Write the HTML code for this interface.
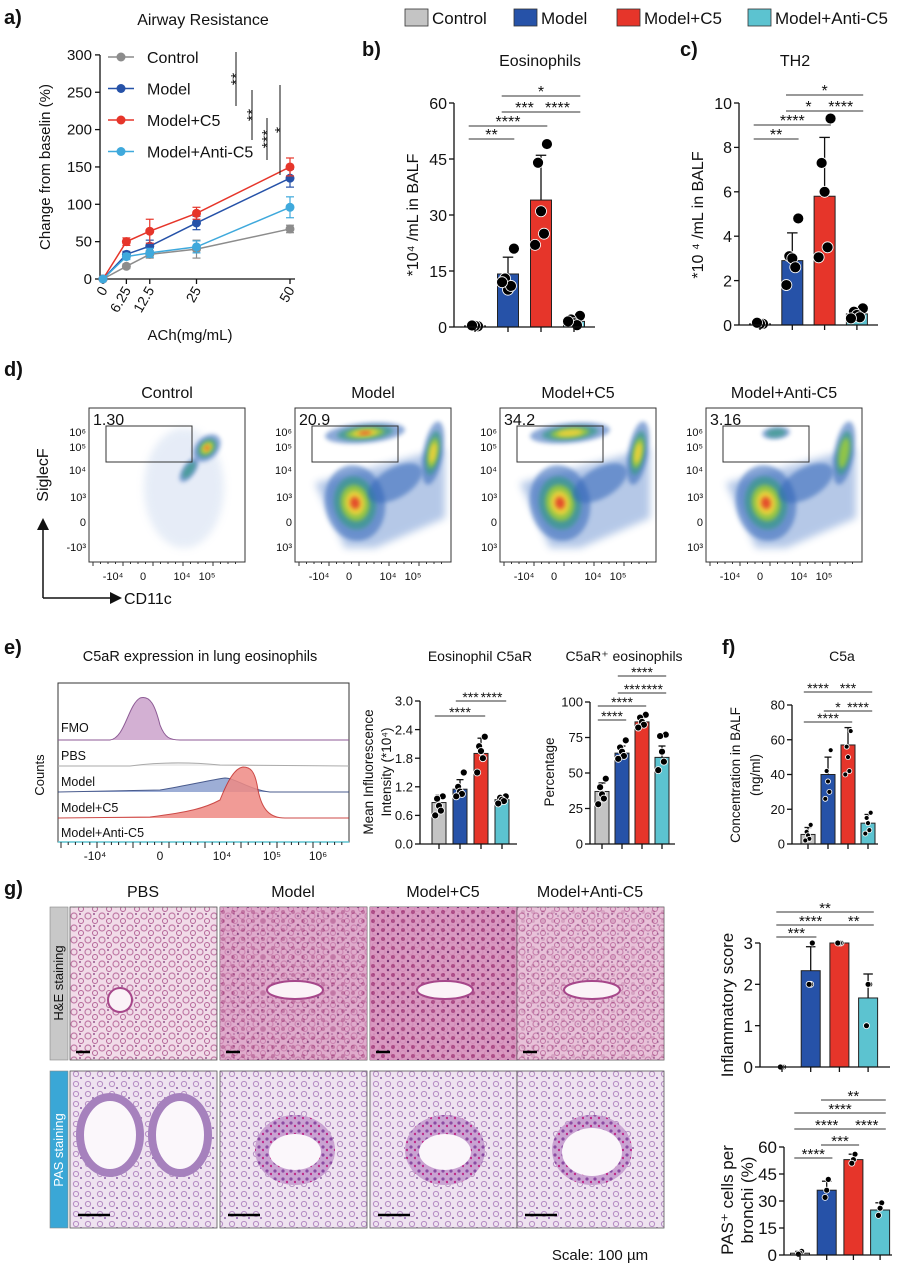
<!DOCTYPE html>
<html><head><meta charset="utf-8">
<style>
html,body{margin:0;padding:0;background:#fff;}
svg{display:block;font-family:"Liberation Sans",Arial,sans-serif;}
</style></head>
<body>
<svg id="fig" width="911" height="1275" viewBox="0 0 911 1275" xmlns="http://www.w3.org/2000/svg">
<defs>
<filter id="blur4" x="-50%" y="-50%" width="200%" height="200%"><feGaussianBlur stdDeviation="4"/></filter>
<filter id="blur2" x="-50%" y="-50%" width="200%" height="200%"><feGaussianBlur stdDeviation="2"/></filter>
<pattern id="he" width="14" height="12" patternUnits="userSpaceOnUse">
<rect width="14" height="12" fill="#f1dbe8"/>
<circle cx="4" cy="4" r="3" fill="none" stroke="#c07aa6" stroke-width="1.2"/>
<circle cx="11" cy="9" r="2.5" fill="none" stroke="#b56598" stroke-width="1"/>
<circle cx="10" cy="2" r="0.9" fill="#7a2f74"/></pattern>
<pattern id="he2" width="10" height="9" patternUnits="userSpaceOnUse">
<rect width="10" height="9" fill="#d690bb"/>
<circle cx="3" cy="3" r="2" fill="#a8407f"/>
<circle cx="8" cy="7" r="1.2" fill="#6b2268"/></pattern>
<pattern id="pas" width="12" height="10" patternUnits="userSpaceOnUse">
<rect width="12" height="10" fill="#efe3f0"/>
<circle cx="4" cy="4" r="2.6" fill="none" stroke="#b58cc4" stroke-width="1"/>
<circle cx="9" cy="8" r="1" fill="#8a5aa6"/></pattern>
<pattern id="pas2" width="8" height="8" patternUnits="userSpaceOnUse">
<rect width="8" height="8" fill="#c9a3d2"/>
<circle cx="3" cy="3" r="1.6" fill="#8c4aa2"/>
<circle cx="7" cy="6" r="1.2" fill="#c02a8a"/></pattern>
</defs>
<g id="root"></g>
</svg>
<script>
// ---------- DATA ----------
const groups = ["Control","Model","Model+C5","Model+Anti-C5"];
const colors = ["#c4c4c4","#2652a8","#e6352a","#5cc3d0"];
// panel a
const achDoses = [0, 6.25, 12.5, 25, 50];
const arControl = [0, 17, 33, 40, 67];
const arModel = [0, 33, 44, 75, 135];
const arC5 = [0, 50, 64, 88, 150];
const arAnti = [0, 30, 35, 43, 96];
const arErrC5 = [0, 5, 16, 8, 12];
const arErrModel = [0, 4, 8, 9, 12];
const arErrAnti = [0, 4, 6, 8, 14];
const arErrControl = [0, 3, 5, 12, 5];
const arTicks = [0,50,100,150,200,250,300];
// panel b
const eosMeans = [0.3, 14.2, 34, 1.5];
const eosSD = [0.2, 4.5, 12, 1];
const eosDots = [[0.2,0.3,0.4],[21,13,10,11,12],[49,44,31,25,22],[3,2,1,0.5,1.5]];
const eosTicks = [0,15,30,45,60];
// panel c
const th2Means = [0.05, 2.9, 5.8, 0.5];
const th2SD = [0.05, 1.25, 2.65, 0.2];
const th2Dots = [[0.05,0.05,0.1],[4.8,3.1,3,2.6,1.8],[9.3,7.3,6,3.5,3.05],[0.75,0.6,0.45,0.35,0.3]];
const th2Ticks = [0,2,4,6,8,10];
// panel e (MFI)
const mfiMeans = [0.87, 1.15, 1.9, 0.93];
const mfiSD = [0.15, 0.2, 0.32, 0.08];
const mfiDots = [[1.0,0.95,0.8,0.7,0.6],[1.5,1.2,1.1,1.05,1.0],[2.25,2.05,1.95,1.8,1.5],[1.0,0.97,0.93,0.9,0.85]];
const mfiTicks = [0,0.6,1.2,1.8,2.4,3.0];
// panel e (percentage)
const pctMeans = [37, 64, 86, 61];
const pctSD = [6, 5, 3, 8];
const pctDots = [[46,40,35,32,28],[73,68,65,62,60],[91,89,86,84,82],[77,76,65,58,52]];
const pctTicks = [0,25,50,75,100];
// panel f
const c5aMeans = [5.5, 40, 57, 12];
const c5aSD = [4, 10, 10, 5];
const c5aDots = [[11,7,5,3,2],[54,42,36,30,26],[65,56,50,42,40],[18,15,12,8,6]];
const c5aTicks = [0,20,40,60,80];
// panel g
const inflMeans = [0, 2.33, 3, 1.67];
const inflSD = [0, 0.58, 0, 0.58];
const inflDots = [[0,0,0],[3,2,2],[3,3,3],[2,2,1]];
const inflTicks = [0,1,2,3];
const pasMeans = [1, 36, 53, 25];
const pasSD = [1, 5, 3, 4];
const pasDots = [[2,1,0.5],[42,36,32],[56,53,51],[29,26,22]];
const pasTicks = [0,15,30,45,60];

// ---------- HELPERS ----------
const NS="http://www.w3.org/2000/svg";
const root=document.getElementById('root');
function el(tag, attrs, parent, text){
  const e=document.createElementNS(NS,tag);
  for(const k in attrs) e.setAttribute(k,attrs[k]);
  if(text!==undefined) e.textContent=text;
  (parent||root).appendChild(e);
  return e;
}
function txt(x,y,s,size,opts,parent){
  opts=opts||{};
  const t=el('text',{x:x,y:y,'font-size':size,fill:opts.fill||'#111','text-anchor':opts.anchor||'start','font-weight':opts.bold?'bold':'normal'},parent,s);
  if(opts.rot) t.setAttribute('transform','rotate('+opts.rot+' '+x+' '+y+')');
  return t;
}
function line(x1,y1,x2,y2,stroke,w,parent){return el('line',{x1:x1,y1:y1,x2:x2,y2:y2,stroke:stroke||'#111','stroke-width':w||1.3},parent);}

function barChart(cfg){
  const g=el('g',{});
  
  
  const ymax=cfg.ticks[cfg.ticks.length-1];
  const ys=v=>cfg.yBot-(v/ymax)*(cfg.yBot-cfg.yTop);
  const xs=i=>cfg.x1+i*cfg.step;
  cfg.means.forEach((m,i)=>{
    const b=el('rect',{x:xs(i)-cfg.bw/2,y:ys(m),width:cfg.bw,height:Math.max(0,cfg.yBot-ys(m)),fill:colors[i],stroke:'#222','stroke-width':1},g);
    
    
  });
  cfg.means.forEach((m,i)=>{
    const sd=cfg.sd[i]; if(!sd) return;
    line(xs(i),ys(m),xs(i),ys(m+sd),'#111',1.3,g);
    line(xs(i)-cfg.bw*0.25,ys(m+sd),xs(i)+cfg.bw*0.25,ys(m+sd),'#111',1.3,g);
  });
  cfg.dots.forEach((arr,i)=>{
    const n=arr.length;
    arr.forEach((v,j)=>{
      const off=(j-(n-1)/2)*cfg.dr*0.9*(j%2?1:-1)*0.6;
      const d=el('circle',{cx:xs(i)+off,cy:ys(v),r:cfg.dr,fill:'#000',stroke:'#fff','stroke-width':0.8},g);
      
      
    });
  });
  line(cfg.axX,cfg.yTop,cfg.axX,cfg.yBot,'#111',1.3,g);
  line(cfg.axX,cfg.yBot,cfg.xEnd,cfg.yBot,'#111',1.3,g);
  cfg.ticks.forEach(t=>{
    line(cfg.axX-5,ys(t),cfg.axX,ys(t),'#111',1.3,g);
    txt(cfg.axX-7,ys(t)+cfg.fs*0.36,cfg.fix?t.toFixed(1):String(t),cfg.fs,{anchor:'end'},g);
  });
  cfg.means.forEach((m,i)=>line(xs(i),cfg.yBot,xs(i),cfg.yBot+5,'#111',1.3,g));
  (cfg.sig||[]).forEach(s=>{
    line(xs(s[0])-cfg.bw*0.3,s[2],xs(s[1])+cfg.bw*0.3,s[2],'#333',1,g);
    txt((xs(s[0])+xs(s[1]))/2,s[2]+1,s[3],cfg.sfs||15,{anchor:'middle'},g);
  });
  return g;
}

// ---------- TOP LEGEND ----------
const lg=el('g',{});


const lgX=[405,514,617,748];
groups.forEach((gname,i)=>{
  const r=el('rect',{x:lgX[i],y:9,width:23,height:17,fill:colors[i],stroke:'#333','stroke-width':0.8},lg);
  
  
  txt(lgX[i]+27,24,gname,17,{},lg);
});

// ---------- PANEL LABELS ----------
[["a)",4,24],["b)",362,56],["c)",680,56],["d)",4,376],["e)",4,654],["f)",722,654],["g)",4,895]].forEach(p=>{
  const t=txt(p[1],p[2],p[0],20,{bold:true});
  
  
});

// ---------- PANEL A ----------
(function(){
  const g=el('g',{});
  
  
  const xs=v=>103+v*3.74, ys=v=>279-v*0.747;
  txt(203,25,"Airway Resistance",16,{anchor:'middle'},g);
  line(100,55,100,279,'#111',1.3,g);
  line(100,279,295,279,'#111',1.3,g);
  arTicks.forEach(t=>{line(95,ys(t),100,ys(t),'#111',1.3,g);txt(92,ys(t)+5,String(t),15,{anchor:'end'},g);});
  achDoses.forEach(d=>{line(xs(d),279,xs(d),284,'#111',1.3,g);txt(xs(d)+5,290,String(d),14,{anchor:'end',rot:-60},g);});
  txt(190,340,"ACh(mg/mL)",15,{anchor:'middle'},g);
  txt(50,167,"Change from baselin (%)",15,{anchor:'middle',rot:-90},g);
  const series=[[arControl,arErrControl,"#8c8c8c","Control"],[arModel,arErrModel,"#2652a8","Model"],[arC5,arErrC5,"#e6352a","Model+C5"],[arAnti,arErrAnti,"#3fa9dc","Model+Anti-C5"]];
  series.forEach((s,si)=>{
    const sg=el('g',{},g);
    
    
    el('polyline',{points:achDoses.map((d,i)=>xs(d)+','+ys(s[0][i])).join(' '),fill:'none',stroke:s[2],'stroke-width':1.5},sg);
    achDoses.forEach((d,i)=>{
      if(s[1][i]){line(xs(d),ys(s[0][i]-s[1][i]),xs(d),ys(s[0][i]+s[1][i]),s[2],1.2,sg);
        line(xs(d)-4,ys(s[0][i]+s[1][i]),xs(d)+4,ys(s[0][i]+s[1][i]),s[2],1.2,sg);
        line(xs(d)-4,ys(s[0][i]-s[1][i]),xs(d)+4,ys(s[0][i]-s[1][i]),s[2],1.2,sg);}
      el('circle',{cx:xs(d),cy:ys(s[0][i]),r:4.5,fill:s[2]},sg);
    });
    const ly=57+si*31.5;
    line(108,ly,134,ly,s[2],1.5,g);
    el('circle',{cx:121,cy:ly,r:4.5,fill:s[2]},g);
    txt(147,ly+6,s[3],16,{},g);
  });
  [[236,52,106,"**"],[252,90,140,"**"],[267,118,160,"***"],[280,85,175,"*"]].forEach(b=>{
    line(b[0],b[1],b[0],b[2],'#111',1,g);
    txt(b[0]+6,(b[1]+b[2])/2,b[3],16,{anchor:'middle',rot:-90},g);
  });
})();

// ---------- PANEL B ----------
txt(540,66,"Eosinophils",16,{anchor:'middle'});
barChart({name:'eosinophils-chart',means:eosMeans,sd:eosSD,dots:eosDots,ticks:eosTicks,x1:475,step:33,bw:21,axX:454,xEnd:595,yTop:103,yBot:327,fs:16,dr:5.5,sfs:16,
  sig:[[0,1,139,"**"],[0,2,126,"****"],[1,2,112,"***"],[2,3,112,"****"],[1,3,96,"*"]]});
txt(418,215,"*10\u2074 /mL in BALF",16,{anchor:'middle',rot:-90});

// ---------- PANEL C ----------
txt(795,66,"TH2",16,{anchor:'middle'});
barChart({name:'th2-chart',means:th2Means,sd:th2SD,dots:th2Dots,ticks:th2Ticks,x1:760,step:32.3,bw:21,axX:739,xEnd:878,yTop:103,yBot:325,fs:16,dr:5.5,sfs:16,
  sig:[[0,1,139,"**"],[0,2,125,"****"],[1,2,111,"*"],[2,3,111,"****"],[1,3,95,"*"]]});
txt(703,215,"*10  \u2074 /mL in BALF",16,{anchor:'middle',rot:-90});

// ---------- PANEL D (flow) ----------
const flowNames=["Control","Model","Model+C5","Model+Anti-C5"];
const flowGates=["1.30","20.9","34.2","3.16"];
const flowX=[89,295,500,706];
function blob(parent,cx,cy,rx,ry,rot,strength){
  const L=[["#2d63b8",1,0.55],["#3a9a8a",0.7,0.75],["#9ccc3a",0.48,0.85],["#f2d23a",0.32,0.9],["#e4462a",0.16,0.95]];
  L.forEach((l,k)=>{ if(k>=strength) return;
    el('ellipse',{cx:cx,cy:cy,rx:rx*l[1],ry:ry*l[1],fill:l[0],opacity:l[2],filter:'url(#blur2)',transform:'rotate('+rot+' '+cx+' '+cy+')'},parent);});
}
flowX.forEach((x0,i)=>{
  const g=el('g',{});
  
  
  txt(x0+78,398,flowNames[i],16,{anchor:'middle'},g);
  const W=156,T=408,B=562;
  el('rect',{x:x0,y:T,width:W,height:B-T,fill:'#fff',stroke:'#333','stroke-width':1},g);
  if(i===0){
    el('ellipse',{cx:x0+95,cy:T+80,rx:40,ry:60,fill:'#9db7e0',opacity:0.25,filter:'url(#blur4)'},g);
    blob(g,x0+118,T+40,16,11,-45,5);
    blob(g,x0+100,T+62,14,6,-55,2);
  } else {
    const eosBig = i===2?4:(i===1?5:2);
    el('path',{d:`M${x0+20} ${T+75} L${x0+150} ${T+40} L${x0+150} ${T+110} L${x0+80} ${T+140} L${x0+50} ${T+140} Z`,fill:'#5b86cc',opacity:0.45,filter:'url(#blur4)'},g);
    blob(g,x0+60,T+95,30,38,-10,5);
    blob(g,x0+70,T+25,i===3?14:40,i===3?6:10,-5,eosBig);
    blob(g,x0+138,T+45,10,32,10,i===3?3:4);
    blob(g,x0+100,T+75,30,15,-30,1);
  }
  el('rect',{x:x0+17,y:T+18,width:86,height:36,fill:'none',stroke:'#333','stroke-width':1},g);
  txt(x0+4,T+17,flowGates[i],16,{},g);
  [["10\u2076",432],["10\u2075",447],["10\u2074",470],["10\u00b3",497],["0",522],[i===0?"-10\u00b3":"10\u00b3",547]].forEach(t=>txt(x0-3,t[1]+4,t[0],11,{anchor:'end'},g));
  [["-10\u2074",24],["0",54],["10\u2074",93],["10\u2075",118]].forEach(t=>txt(x0+t[1],580,t[0],11,{anchor:'middle'},g));
  for(let k=0;k<20;k++) line(x0+4+k*7.5,B,x0+4+k*7.5,B+(k%4===0?4:2),'#333',1,g);
});
(function(){
  const g=el('g',{});
  
  
  line(43,598,43,528,'#111',1.5,g);
  el('polygon',{points:'37,530 49,530 43,518',fill:'#111'},g);
  line(43,598,112,598,'#111',1.5,g);
  el('polygon',{points:'110,592 110,604 122,598',fill:'#111'},g);
  txt(124,604,"CD11c",16,{},g);
  txt(48,475,"SiglecF",16,{anchor:'middle',rot:-90},g);
})();

// ---------- PANEL E histogram ----------
(function(){
  const g=el('g',{});
  
  
  txt(200,661,"C5aR expression in lung eosinophils",14.5,{anchor:'middle'},g);
  el('rect',{x:58,y:683,width:291,height:159,fill:'#fff',stroke:'#333','stroke-width':1},g);
  el('path',{d:'M58 740 L110 740 C125 738 128 705 140 698 C150 695 155 705 160 725 C165 738 170 740 180 740 L349 740',fill:'#d3b0d3',stroke:'#8c5a94','stroke-width':1},g);
  el('path',{d:'M58 766 L130 766 C160 762 190 762 220 765 L349 766',fill:'#ededed',stroke:'#aaa','stroke-width':1},g);
  el('path',{d:'M58 792 L160 790 C190 785 210 780 225 778 C235 778 250 790 270 792 L349 792',fill:'#8da0cf',stroke:'#2a3f7a','stroke-width':1,opacity:0.85},g);
  el('path',{d:'M58 818 L150 817 C190 812 205 808 220 800 C228 780 235 768 243 767 C250 767 255 770 258 790 C262 810 270 818 285 818 L349 818',fill:'#ef8a84',stroke:'#c42b27','stroke-width':1,opacity:0.85},g);
  line(58,842,349,842,'#5cc3d0',1.5,g);
  [["FMO",732],["PBS",760],["Model",786],["Model+C5",812],["Model+Anti-C5",837]].forEach(t=>txt(61,t[1],t[0],12.5,{},g));
  txt(44,775,"Counts",13,{anchor:'middle',rot:-90},g);
  [["-10\u2074",95],["0",160],["10\u2074",222],["10\u2075",272],["10\u2076",318]].forEach(t=>txt(t[1],860,t[0],12,{anchor:'middle'},g));
  for(let k=0;k<40;k++) line(61+k*7.2,842,61+k*7.2,k%5===0?848:845,'#222',1,g);
})();

// ---------- PANEL E bars ----------
txt(480,661,"Eosinophil C5aR",14,{anchor:'middle'});
barChart({name:'eosinophil-c5ar-mfi-chart',means:mfiMeans,sd:mfiSD,dots:mfiDots,ticks:mfiTicks,fix:true,x1:439,step:21,bw:14,axX:420,xEnd:517,yTop:701,yBot:844,fs:13,dr:3.5,sfs:14,
  sig:[[0,2,716,"****"],[1,2,701,"***"],[2,3,701,"****"]]});
txt(373,772,"Mean Influorescence",13.5,{anchor:'middle',rot:-90});
txt(391,772,"Intensity (*10\u2074)",13.5,{anchor:'middle',rot:-90});

txt(624,661,"C5aR\u207a eosinophils",14,{anchor:'middle'});
barChart({name:'c5ar-positive-eosinophils-chart',means:pctMeans,sd:pctSD,dots:pctDots,ticks:pctTicks,x1:602,step:20,bw:14,axX:590,xEnd:675,yTop:702,yBot:844,fs:13,dr:3.5,sfs:14,
  sig:[[0,1,720,"****"],[0,2,706,"****"],[1,2,693,"***"],[2,3,693,"****"],[1,3,676,"****"]]});
txt(554,772,"Percentage",13.5,{anchor:'middle',rot:-90});

// ---------- PANEL F ----------
txt(842,661,"C5a",14,{anchor:'middle'});
barChart({name:'c5a-concentration-chart',means:c5aMeans,sd:c5aSD,dots:c5aDots,ticks:c5aTicks,x1:808,step:20,bw:14,axX:792,xEnd:878,yTop:705,yBot:844,fs:13,dr:2.5,sfs:14,
  sig:[[0,1,692,"****"],[1,3,692,"***"],[1,2,711,"*"],[2,3,711,"****"],[0,2,722,"****"]]});
txt(740,775,"Concentration in BALF",13.5,{anchor:'middle',rot:-90});
txt(760,775,"(ng/ml)",13.5,{anchor:'middle',rot:-90});

// ---------- PANEL G images ----------
const histCols=[70,220,370,517];
const histTitles=["PBS","Model","Model+C5","Model+Anti-C5"];
histCols.forEach((x0,i)=>{
  txt(x0+73,897,histTitles[i],16,{anchor:'middle'});
  const g=el('g',{});
  
  
  el('rect',{x:x0,y:907,width:147,height:153,fill:'url(#he)',stroke:'#555','stroke-width':0.8},g);
  if(i>0){
    el('rect',{x:x0,y:907,width:147,height:153,fill:'url(#he2)',opacity:i===2?0.9:(i===1?0.65:0.35)},g);
  }
  el('ellipse',{cx:x0+(i===0?50:75),cy:i===0?1000:990,rx:i===0?12:28,ry:i===0?12:9,fill:'#fbf2f7',stroke:'#a6478a','stroke-width':2},g);
  line(x0+6,1052,x0+20,1052,'#000',2.5,g);
  const p=el('g',{});
  
  
  el('rect',{x:x0,y:1071,width:147,height:157,fill:'url(#pas)',stroke:'#555','stroke-width':0.8},p);
  if(i===0){
    el('ellipse',{cx:x0+40,cy:1135,rx:30,ry:38,fill:'#fbf7fb',stroke:'#a681bd','stroke-width':8},p);
    el('ellipse',{cx:x0+110,cy:1135,rx:28,ry:38,fill:'#fbf7fb',stroke:'#a681bd','stroke-width':8},p);
  } else {
    el('ellipse',{cx:x0+75,cy:1150,rx:40,ry:35,fill:'url(#pas2)'},p);
    el('ellipse',{cx:x0+75,cy:1152,rx:i===3?30:26,ry:i===3?24:18,fill:'#fbf7fb'},p);
  }
  line(x0+8,1215,x0+40,1215,'#000',2.5,p);
});
el('rect',{x:50,y:907,width:18,height:153,fill:'#c8c8c8',stroke:'#888','stroke-width':0.6});
el('rect',{x:50,y:1071,width:18,height:157,fill:'#3aa7d6',stroke:'#888','stroke-width':0.6});
txt(63,983,"H&E staining",13,{anchor:'middle',rot:-90});
txt(63,1150,"PAS  staining",13,{anchor:'middle',rot:-90,fill:'#fff'});
txt(600,1260,"Scale: 100 \u00b5m",15,{anchor:'middle'});

// ---------- PANEL G bars ----------
barChart({name:'inflammatory-score-chart',means:inflMeans,sd:inflSD,dots:inflDots,ticks:inflTicks,x1:782,step:28.7,bw:19,axX:760,xEnd:890,yTop:943,yBot:1067,fs:17,dr:3,sfs:15,
  sig:[[0,1,937,"***"],[0,2,925,"****"],[2,3,925,"**"],[0,3,912,"**"]]});
txt(733,1005,"Inflammatory score",17,{anchor:'middle',rot:-90});
barChart({name:'pas-positive-cells-chart',means:pasMeans,sd:pasSD,dots:pasDots,ticks:pasTicks,x1:800,step:26.7,bw:19,axX:784,xEnd:892,yTop:1147,yBot:1255,fs:17,dr:3,sfs:15,
  sig:[[0,1,1158,"****"],[1,2,1145,"***"],[0,2,1129,"****"],[2,3,1129,"****"],[0,3,1113,"****"],[1,3,1100,"**"]]});
txt(733,1200,"PAS\u207a cells per",17,{anchor:'middle',rot:-90});
txt(753,1200,"bronchi (%)",17,{anchor:'middle',rot:-90});
</script>
</body></html>
